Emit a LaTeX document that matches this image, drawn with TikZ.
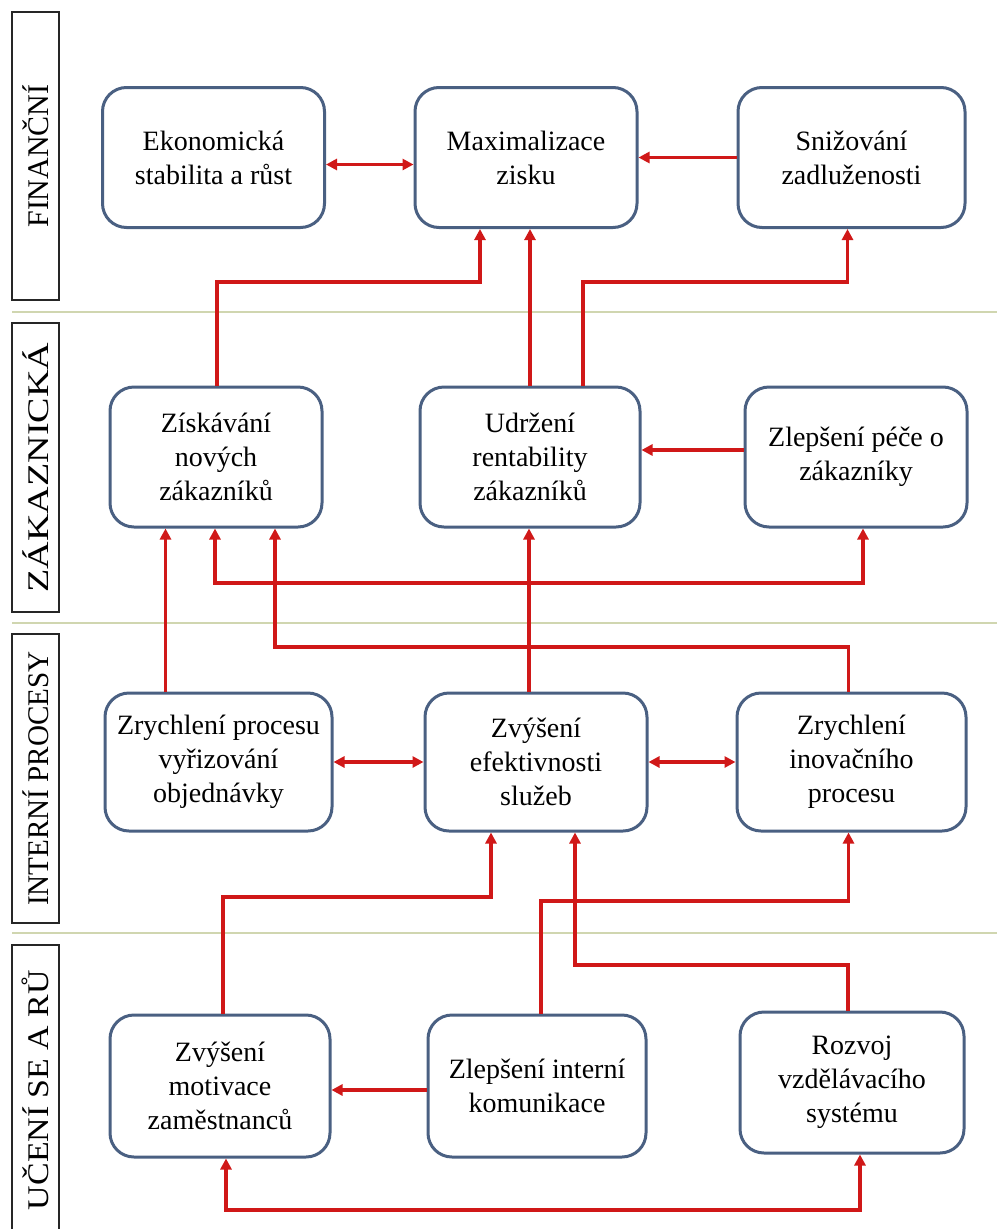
\documentclass[tikz,border=0pt]{standalone}
\usepackage{fontspec}
\setmainfont{Liberation Serif}
\usetikzlibrary{arrows.meta}

\definecolor{ramcil}{RGB}{74,96,130}
\definecolor{sipka}{RGB}{208,24,24}
\definecolor{delic}{RGB}{208,214,176}

\tikzset{
  cil/.style={draw=ramcil, line width=3pt, rounded corners=24pt, fill=white,
    align=center, minimum width=222pt, minimum height=140pt, inner sep=3pt,
    font=\fontsize{28}{34}\selectfont},
  pole/.style={draw=black!85, line width=2pt, rotate=90, minimum height=47pt,
    inner sep=0pt, font=\fontsize{30}{32}\selectfont},
  vazba/.style={draw=sipka, line width=3.6pt, -{Triangle[length=11pt,width=11pt]}},
  obousm/.style={draw=sipka, line width=3.6pt, {Triangle[length=11pt,width=11pt]}-{Triangle[length=11pt,width=11pt]}},
}

\begin{document}
\begin{tikzpicture}[x=1pt,y=-1pt]
  \clip (0,0) rectangle (997,1229); % picture frame

  % perspectives on the left
  \node[pole, minimum width=288pt] (fin) at (35.5,156) {FINANČNÍ};
  \node[pole, minimum width=289pt] (zak) at (35.5,467.5) {\scalebox{1.27}[1]{ZÁKAZNICKÁ}};
  \node[pole, minimum width=289pt] (proc) at (35.5,778.5) {\scalebox{0.97}[1]{INTERNÍ PROCESY}};
  \node[pole, minimum width=290pt] (uceni) at (35.5,1090) {\scalebox{1.13}[1]{UČENÍ SE A RŮ}};

  \foreach \y in {312,623,933}{ % dividing lines
      \draw[delic, line width=2pt] (12,\y) -- (997,\y);
  }

  % goals
  \node[cil] (ekon)   at (213.5,157.5) {Ekonomická\\stabilita a růst};
  \node[cil] (maxim)  at (526,157.5)   {Maximalizace\\zisku};
  \node[cil, minimum width=227pt] (sniz) at (851.5,157.5) {Snižování\\zadluženosti};

  \node[cil, minimum width=212pt] (ziskav) at (216,457) {Získávání\\nových\\zákazníků};
  \node[cil, minimum width=220pt] (udrz)   at (530,457) {Udržení\\rentability\\zákazníků};
  \node[cil] (zleps)  at (856,457) {Zlepšení péče o\\zákazníky};

  \node[cil, minimum width=227pt, minimum height=138pt] (zrproc) at (218.5,762) {Zrychlení procesu\\vyřizování\\objednávky};
  \node[cil, minimum height=138pt] (zvyef)  at (536,762) {Zvýšení\\efektivnosti\\služeb};
  \node[cil, minimum width=229pt, minimum height=138pt] (zrinov) at (851.5,762) {Zrychlení\\inovačního\\procesu};

  \node[cil, minimum width=220pt, minimum height=142pt] (motiv)  at (220,1086) {Zvýšení\\motivace\\zaměstnanců};
  \node[cil, minimum width=218pt, minimum height=142pt] (komun)  at (537,1086) {Zlepšení interní\\komunikace};
  \node[cil, minimum width=224pt, minimum height=141pt] (rozvoj) at (852,1082.5) {Rozvoj\\vzdělávacího\\systému};

  % levels of the horizontal runs
  \coordinate (h1) at (0,282);
  \coordinate (h2) at (0,583);
  \coordinate (h3) at (0,647);
  \coordinate (h4) at (0,897);
  \coordinate (h5) at (0,901);
  \coordinate (h6) at (0,965);
  \coordinate (h7) at (0,1210);

  % financial
  \draw[obousm] ([yshift=-7pt]ekon.east) -- ([yshift=-7pt]maxim.west);
  \draw[vazba] (sniz.west) -- (maxim.east);

  % customer -> financial
  \draw[vazba] ([xshift=1pt]ziskav.north) -- ([xshift=1pt]ziskav.north |- h1) -| ([xshift=-46pt]maxim.south);
  \draw[vazba] (udrz.north) -- (udrz.north |- maxim.south);
  \draw[vazba] ([xshift=53pt]udrz.north) -- ([xshift=53pt]udrz.north |- h1) -| ([xshift=-4pt]sniz.south);
  \draw[vazba] ([yshift=7pt]zleps.west) -- ([yshift=7pt]udrz.east);

  % processes -> customer
  \draw[vazba] ([xshift=-53pt]zrproc.north) -- ([xshift=-53pt]zrproc.north |- ziskav.south);
  \draw[vazba] ([xshift=-7pt]zvyef.north) -- ([xshift=-7pt]zvyef.north |- udrz.south);
  \coordinate (j1) at ([xshift=-7pt]zvyef.north |- h2);
  \draw[vazba] (j1) -| ([xshift=-1pt]ziskav.south);
  \draw[vazba] (j1) -| ([xshift=7pt]zleps.south);
  \draw[vazba] ([xshift=-3pt]zrinov.north) -- ([xshift=-3pt]zrinov.north |- h3) -| ([xshift=59pt]ziskav.south);
  \draw[obousm] (zrproc.east) -- (zvyef.west);
  \draw[obousm] (zvyef.east) -- (zrinov.west);

  % learning -> processes
  \draw[vazba] ([xshift=3pt]motiv.north) -- ([xshift=3pt]motiv.north |- h4) -| ([xshift=-45pt]zvyef.south);
  \draw[vazba] ([xshift=4pt]komun.north) -- ([xshift=4pt]komun.north |- h5) -| ([xshift=-3pt]zrinov.south);
  \draw[vazba] ([xshift=-4pt]rozvoj.north) -- ([xshift=-4pt]rozvoj.north |- h6) -| ([xshift=39pt]zvyef.south);
  \draw[vazba] ([yshift=-4pt]komun.west) -- ([yshift=-4pt]motiv.east);
  \draw[obousm] ([xshift=6pt]motiv.south) -- ([xshift=6pt]motiv.south |- h7) -| ([xshift=8pt]rozvoj.south);
\end{tikzpicture}
\end{document}
